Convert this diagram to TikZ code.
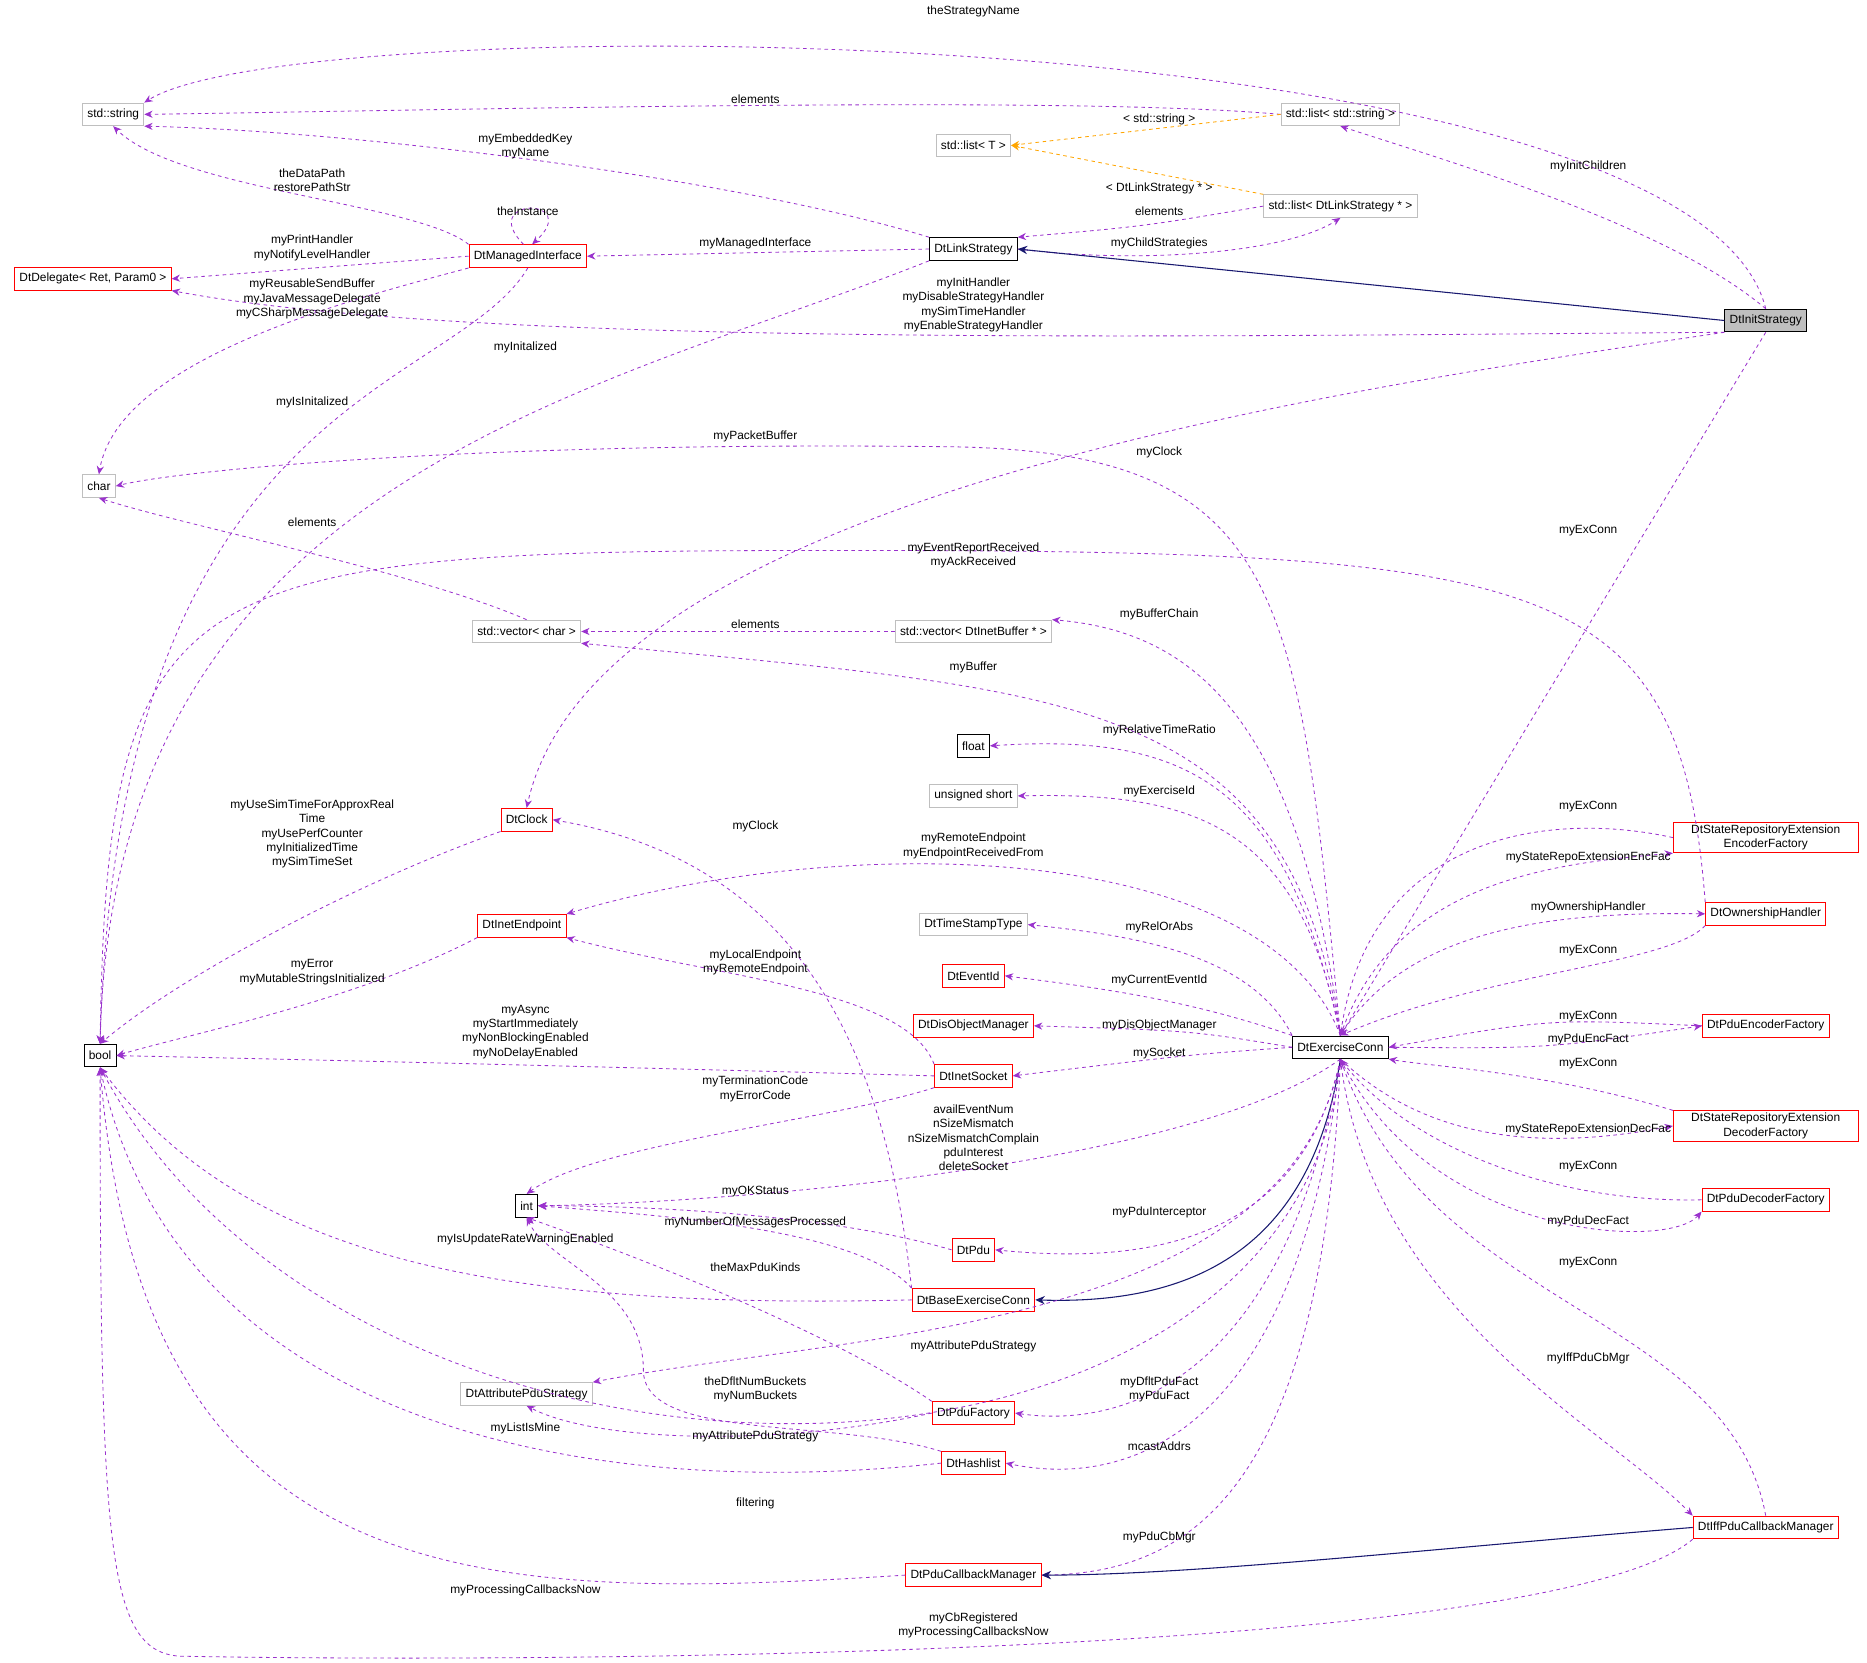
\documentclass[tikz,border=0pt]{standalone}
\usepackage{fontspec}
\setmainfont{Liberation Sans}
\usetikzlibrary{arrows.meta}
\definecolor{dep}{HTML}{9A32CD}
\definecolor{inh}{HTML}{191970}
\definecolor{tpl}{HTML}{FFA500}
\definecolor{gbd}{HTML}{BFBFBF}
\begin{document}
\begin{tikzpicture}[x=1pt,y=-1pt,font=\fontsize{10}{12}\selectfont,
 box/.style={draw,minimum height=19pt,inner xsep=4pt,inner ysep=2pt,align=center,line width=0.8pt,fill=white},
 gb/.style={box,draw=gbd},
 rb/.style={box,draw=red},
 kb/.style={box,draw=black},
 lab/.style={align=center,inner sep=0pt},
 d/.style={dep,dashed,line width=0.7pt,-{Stealth[length=7pt,width=6pt]}},
 ih/.style={inh,line width=0.9pt,-{Stealth[length=8pt,width=7pt]}},
 tp/.style={tpl,dashed,line width=0.7pt,-{Stealth[length=7pt,width=6pt]}}]
\useasboundingbox (0,0) rectangle (1567,1395);
% nodes
\node[gb] (str) at (95,96) {std::string};
\node[gb] (listT) at (817,122) {std::list< T >};
\node[gb] (listStr) at (1125,96) {std::list< std::string >};
\node[gb] (listLS) at (1125,173) {std::list< DtLinkStrategy * >};
\node[kb] (LS) at (817,209) {DtLinkStrategy};
\node[rb] (MI) at (443,215) {DtManagedInterface};
\node[rb] (Del) at (78,234) {DtDelegate< Ret, Param0 >};
\node[kb,fill=gray!50] (IS) at (1482,269) {DtInitStrategy};
\node[gb] (chr) at (83,408) {char};
\node[gb] (vecC) at (442,530) {std::vector< char >};
\node[gb] (vecB) at (817,530) {std::vector< DtInetBuffer * >};
\node[kb] (flt) at (817,626) {float};
\node[gb] (ush) at (817,668) {unsigned short};
\node[rb] (clk) at (442,688) {DtClock};
\node[gb] (tst) at (817,776) {DtTimeStampType};
\node[rb] (iep) at (438,777) {DtInetEndpoint};
\node[rb] (eid) at (817,819) {DtEventId};
\node[rb] (dom) at (817,861) {DtDisObjectManager};
\node[kb] (EC) at (1125,879) {DtExerciseConn};
\node[kb] (bool) at (84,886) {bool};
\node[rb] (sock) at (817,903) {DtInetSocket};
\node[kb] (int) at (442,1012) {int};
\node[rb] (pdu) at (817,1049) {DtPdu};
\node[rb] (bec) at (817,1091) {DtBaseExerciseConn};
\node[gb] (aps) at (442,1170) {DtAttributePduStrategy};
\node[rb] (pf) at (817,1186) {DtPduFactory};
\node[rb] (hl) at (817,1228) {DtHashlist};
\node[rb] (pcm) at (817,1322) {DtPduCallbackManager};
\node[rb,minimum width=155pt] (sre) at (1482,703) {DtStateRepositoryExtension\\EncoderFactory};
\node[rb] (own) at (1482,767) {DtOwnershipHandler};
\node[rb] (pef) at (1482,861) {DtPduEncoderFactory};
\node[rb,minimum width=155pt] (srd) at (1482,945) {DtStateRepositoryExtension\\DecoderFactory};
\node[rb] (pdf) at (1482,1007) {DtPduDecoderFactory};
\node[rb] (iff) at (1482,1282) {DtIffPduCallbackManager};
% edges
\draw[d] (IS.north) .. controls (1420,10) and (250,5) .. (str.north east);
\draw[d] (listStr.west) .. controls (900,80) and (400,92) .. (str.east);
\draw[tp] (listStr.west) -- (listT.east);
\draw[tp] (listLS.north west) -- (listT.east);
\draw[d] (IS.north) .. controls (1400,190) and (1230,140) .. (listStr.south);
\draw[d] (listLS.west) .. controls (960,190) .. (LS.north east);
\draw[d] (LS.east) .. controls (960,222) and (1080,212) .. (listLS.south);
\draw[ih] (IS.west) -- (LS.east);
\draw[d] (LS.north west) .. controls (620,150) and (300,110) .. (str.south east);
\draw[d] (MI.north west) .. controls (350,170) and (150,160) .. (str.south);
\draw[d] (MI.110) .. controls (400,165) and (490,165) .. (MI.70);
\draw[d] (LS.west) -- (MI.east);
\draw[d] (MI.west) -- (Del.east);
\draw[d] (IS.south west) .. controls (1000,282) and (400,292) .. (Del.south east);
\draw[d] (MI.south west) .. controls (300,250) and (100,300) .. (chr.north);
\draw[d] (MI.south) .. controls (380,330) and (100,330) .. (bool.north);
\draw[d] (LS.south west) .. controls (500,330) and (95,400) .. (bool.north);
\draw[d] (own.north west) .. controls (1410,480) and (1300,462) .. (700,462) .. controls (150,462) and (90,480) .. (bool.north);
\draw[d] (IS.south west) .. controls (1100,330) and (500,420) .. (clk.north);
\draw[d] (EC.north) .. controls (1090,500) and (1080,380) .. (800,375) .. controls (400,370) and (150,395) .. (chr.east);
\draw[d] (vecC.north) .. controls (350,480) and (150,440) .. (chr.south);
\draw[d] (vecB.west) -- (vecC.east);
\draw[d] (EC.north) .. controls (1090,600) and (1000,530) .. (vecB.north east);
\draw[d] (EC.north) .. controls (1080,580) and (900,580) .. (vecC.south east);
\draw[d] (EC.north) .. controls (1080,660) and (1000,615) .. (flt.east);
\draw[d] (EC.north) .. controls (1090,690) and (1000,665) .. (ush.east);
\draw[d] (bec.north west) .. controls (740,850) and (650,720) .. (clk.east);
\draw[d] (clk.south west) .. controls (300,740) and (150,820) .. (bool.north);
\draw[d] (EC.north) .. controls (1060,700) and (700,700) .. (iep.north east);
\draw[d] (EC.north west) .. controls (1050,800) and (950,785) .. (tst.east);
\draw[d] (sock.north west) .. controls (760,830) and (600,820) .. (iep.south east);
\draw[d] (iep.south west) .. controls (300,840) and (150,870) .. (bool.east);
\draw[d] (EC.north west) .. controls (1000,840) and (930,830) .. (eid.east);
\draw[d] (EC.west) .. controls (1000,865) .. (dom.east);
\draw[d] (EC.west) .. controls (1000,885) .. (sock.east);
\draw[d] (sock.west) .. controls (500,895) and (200,888) .. (bool.east);
\draw[d] (sock.south west) .. controls (700,940) and (500,960) .. (int.north);
\draw[d] (EC.south) .. controls (1000,980) and (600,1010) .. (int.east);
\draw[d] (pdu.west) .. controls (700,1020) and (550,1012) .. (int.east);
\draw[d] (bec.north west) .. controls (720,1030) and (550,1020) .. (int.east);
\draw[d] (EC.south) .. controls (1090,1050) and (950,1060) .. (pdu.east);
\draw[d] (bec.west) .. controls (400,1100) and (200,1050) .. (bool.south);
\draw[ih] (EC.south) .. controls (1100,1050) and (1000,1095) .. (bec.east);
\draw[d] (pf.north west) .. controls (700,1120) and (550,1060) .. (int.south);
\draw[d] (EC.south) .. controls (1080,1120) and (700,1120) .. (aps.north east);
\draw[d] (hl.north west) .. controls (700,1190) and (540,1210) .. (540,1150) .. controls (540,1080) and (460,1060) .. (int.south);
\draw[d] (EC.south) .. controls (1080,1150) and (950,1200) .. (pf.east);
\draw[d] (pf.west) .. controls (650,1215) and (500,1210) .. (aps.south);
\draw[d] (hl.west) .. controls (500,1260) and (150,1200) .. (bool.south);
\draw[d] (EC.south) .. controls (1090,1200) and (950,1250) .. (hl.east);
\draw[d] (EC.south) .. controls (1090,1290) and (300,1300) .. (bool.south);
\draw[d] (EC.south) .. controls (1110,1250) and (1000,1320) .. (pcm.east);
\draw[ih] (iff.west) .. controls (1200,1300) and (1000,1322) .. (pcm.east);
\draw[d] (pcm.west) .. controls (400,1345) and (120,1340) .. (bool.south);
\draw[d] (iff.south west) .. controls (1300,1395) and (400,1395) .. (150,1390) .. controls (90,1385) and (84,1300) .. (bool.south);
\draw[d] (sre.west) .. controls (1300,680) and (1150,700) .. (EC.north);
\draw[d] (EC.north) .. controls (1170,740) and (1300,725) .. (sre.south west);
\draw[d] (EC.north) .. controls (1180,780) and (1300,765) .. (own.west);
\draw[d] (own.south west) .. controls (1400,810) and (1250,815) .. (EC.north);
\draw[d] (pef.west) .. controls (1300,855) .. (EC.east);
\draw[d] (EC.east) .. controls (1300,880) .. (pef.west);
\draw[d] (srd.north west) .. controls (1300,900) and (1200,895) .. (EC.south east);
\draw[d] (EC.south) .. controls (1200,960) and (1300,965) .. (srd.west);
\draw[d] (pdf.west) .. controls (1300,1010) and (1180,960) .. (EC.south);
\draw[d] (EC.south) .. controls (1200,1040) and (1400,1050) .. (pdf.south west);
\draw[d] (iff.north) .. controls (1450,1100) and (1200,1100) .. (EC.south);
\draw[d] (EC.south) .. controls (1150,1100) and (1350,1200) .. (iff.north west);
\draw[d] (IS.south) -- (EC.north);
% labels
\node[lab] (l1) at (817,10) {theStrategyName};
\node[lab] (l2) at (634,83) {elements};
\node[lab] (l3) at (973,100) {< std::string >};
\node[lab] (l4) at (973,158) {< DtLinkStrategy * >};
\node[lab] (l5) at (1333,140) {myInitChildren};
\node[lab] (l6) at (973,177) {elements};
\node[lab] (l7) at (973,204) {myChildStrategies};
\node[lab] (l8) at (441,123) {myEmbeddedKey\\myName};
\node[lab] (l9) at (262,151) {theDataPath\\restorePathStr};
\node[lab] (l10) at (443,177) {theInstance};
\node[lab] (l11) at (634,204) {myManagedInterface};
\node[lab] (l12) at (262,208) {myPrintHandler\\myNotifyLevelHandler};
\node[lab] (l13) at (817,256) {myInitHandler\\myDisableStrategyHandler\\mySimTimeHandler\\myEnableStrategyHandler};
\node[lab] (l14) at (262,251) {myReusableSendBuffer\\myJavaMessageDelegate\\myCSharpMessageDelegate};
\node[lab] (l15) at (262,338) {myIsInitalized};
\node[lab] (l16) at (441,292) {myInitalized};
\node[lab] (l17) at (973,380) {myClock};
\node[lab] (l18) at (634,366) {myPacketBuffer};
\node[lab] (l19) at (262,438) {elements};
\node[lab] (l20) at (817,466) {myEventReportReceived\\myAckReceived};
\node[lab] (l21) at (1333,445) {myExConn};
\node[lab] (l22) at (634,524) {elements};
\node[lab] (l23) at (973,516) {myBufferChain};
\node[lab] (l24) at (817,560) {myBuffer};
\node[lab] (l25) at (973,613) {myRelativeTimeRatio};
\node[lab] (l26) at (973,664) {myExerciseId};
\node[lab] (l27) at (634,694) {myClock};
\node[lab] (l28) at (262,700) {myUseSimTimeForApproxReal\\Time\\myUsePerfCounter\\myInitializedTime\\mySimTimeSet};
\node[lab] (l29) at (817,710) {myRemoteEndpoint\\myEndpointReceivedFrom};
\node[lab] (l30) at (973,778) {myRelOrAbs};
\node[lab] (l31) at (634,808) {myLocalEndpoint\\myRemoteEndpoint};
\node[lab] (l32) at (262,816) {myError\\myMutableStringsInitialized};
\node[lab] (l33) at (973,823) {myCurrentEventId};
\node[lab] (l34) at (973,861) {myDisObjectManager};
\node[lab] (l35) at (973,884) {mySocket};
\node[lab] (l36) at (441,866) {myAsync\\myStartImmediately\\myNonBlockingEnabled\\myNoDelayEnabled};
\node[lab] (l37) at (634,914) {myTerminationCode\\myErrorCode};
\node[lab] (l38) at (817,955) {availEventNum\\nSizeMismatch\\nSizeMismatchComplain\\pduInterest\\deleteSocket};
\node[lab] (l39) at (634,1000) {myOKStatus};
\node[lab] (l40) at (634,1026) {myNumberOfMessagesProcessed};
\node[lab] (l41) at (973,1018) {myPduInterceptor};
\node[lab] (l42) at (441,1040) {myIsUpdateRateWarningEnabled};
\node[lab] (l44) at (634,1064) {theMaxPduKinds};
\node[lab] (l45) at (817,1130) {myAttributePduStrategy};
\node[lab] (l46) at (634,1166) {theDfltNumBuckets\\myNumBuckets};
\node[lab] (l47) at (973,1166) {myDfltPduFact\\myPduFact};
\node[lab] (l48) at (634,1206) {myAttributePduStrategy};
\node[lab] (l49) at (441,1199) {myListIsMine};
\node[lab] (l50) at (973,1214) {mcastAddrs};
\node[lab] (l51) at (634,1262) {filtering};
\node[lab] (l52) at (973,1290) {myPduCbMgr};
\node[lab] (l54) at (441,1335) {myProcessingCallbacksNow};
\node[lab] (l55) at (817,1364) {myCbRegistered\\myProcessingCallbacksNow};
\node[lab] (l56) at (1333,677) {myExConn};
\node[lab] (l57) at (1333,720) {myStateRepoExtensionEncFac};
\node[lab] (l58) at (1333,762) {myOwnershipHandler};
\node[lab] (l59) at (1333,798) {myExConn};
\node[lab] (l60) at (1333,853) {myExConn};
\node[lab] (l61) at (1333,872) {myPduEncFact};
\node[lab] (l62) at (1333,893) {myExConn};
\node[lab] (l63) at (1333,948) {myStateRepoExtensionDecFac};
\node[lab] (l64) at (1333,979) {myExConn};
\node[lab] (l65) at (1333,1025) {myPduDecFact};
\node[lab] (l66) at (1333,1060) {myExConn};
\node[lab] (l67) at (1333,1140) {myIffPduCbMgr};
\end{tikzpicture}
\end{document}
